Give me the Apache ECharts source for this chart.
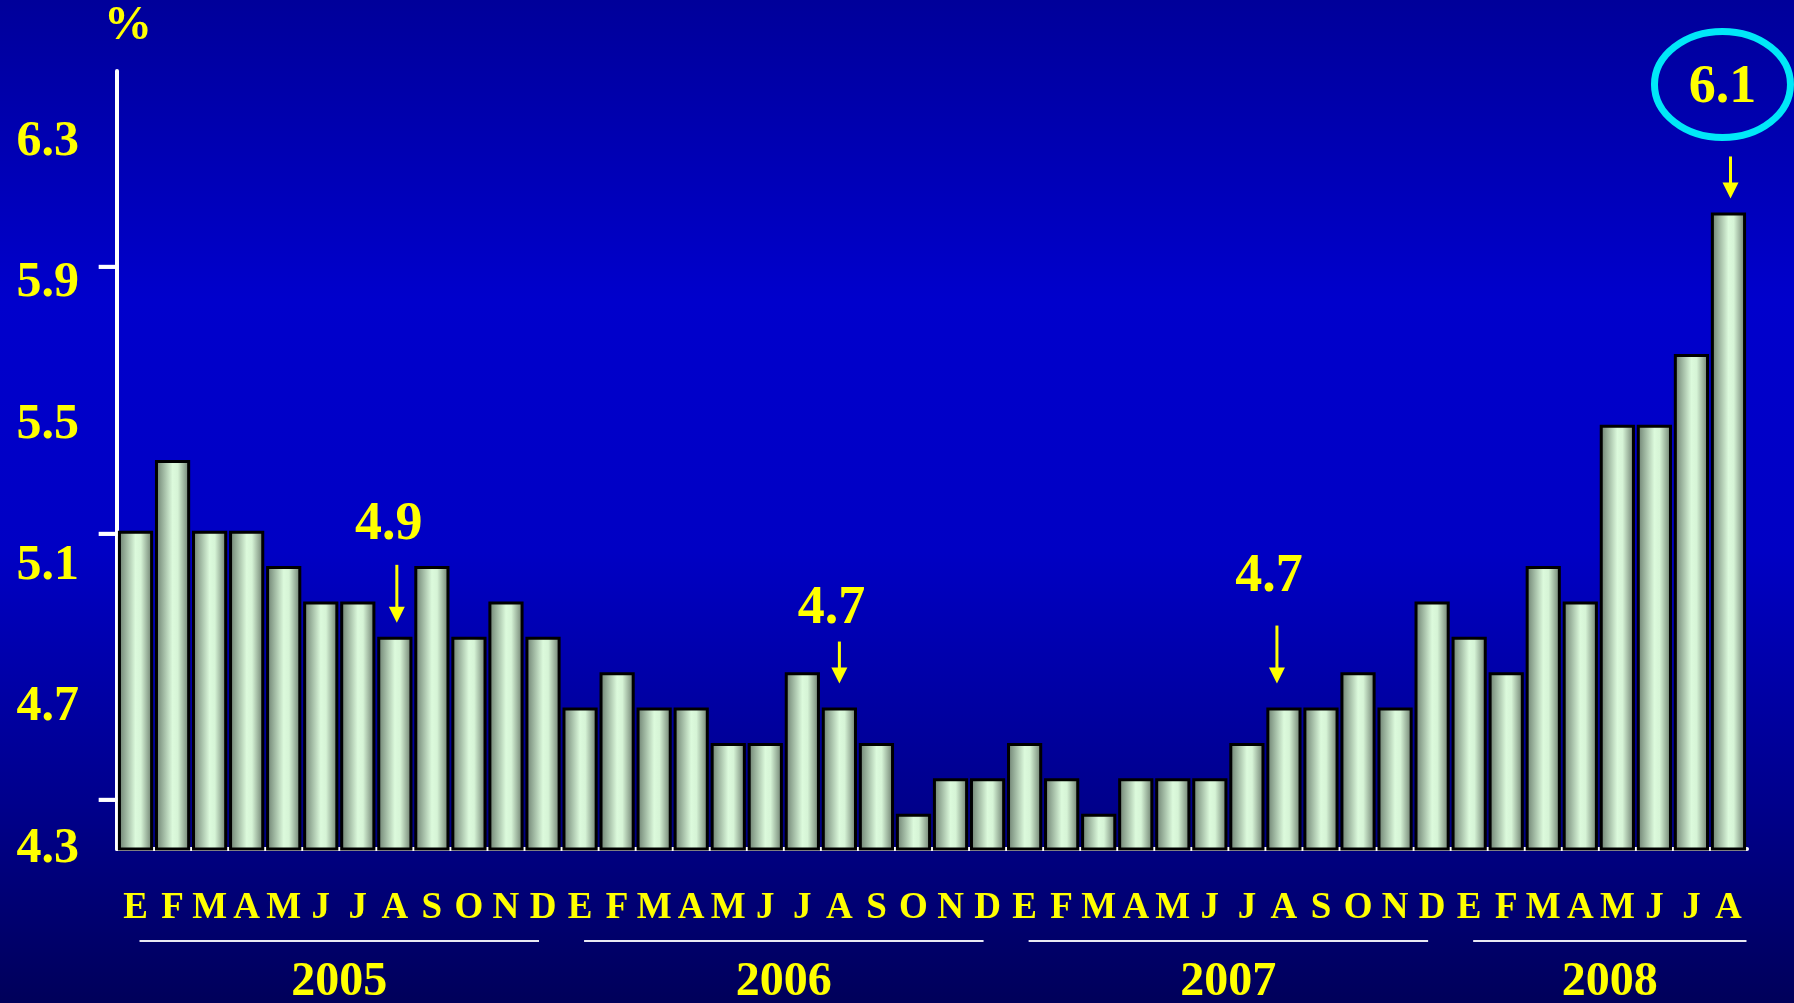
<!DOCTYPE html>
<html>
<head>
<meta charset="utf-8">
<script src="https://cdn.jsdelivr.net/npm/echarts@6/dist/echarts.min.js"></script>
<style>
  html, body { margin: 0; padding: 0; }
  #main { width: 1794px; height: 1003px; }
</style>
</head>
<body>
<div id="main"></div>
<script>
// months (Spanish initials) and monthly rate, %
const months = [
  "E","F","M","A","M","J","J","A","S","O","N","D",
  "E","F","M","A","M","J","J","A","S","O","N","D",
  "E","F","M","A","M","J","J","A","S","O","N","D",
  "E","F","M","A","M","J","J","A"
];
const rates = [
  5.2, 5.4, 5.2, 5.2, 5.1, 5.0, 5.0, 4.9, 5.1, 4.9, 5.0, 4.9,
  4.7, 4.8, 4.7, 4.7, 4.6, 4.6, 4.8, 4.7, 4.6, 4.4, 4.5, 4.5,
  4.6, 4.5, 4.4, 4.5, 4.5, 4.5, 4.6, 4.7, 4.7, 4.8, 4.7, 5.0,
  4.9, 4.8, 5.1, 5.0, 5.5, 5.5, 5.7, 6.1
];
const yTicks = [4.3, 4.7, 5.1, 5.5, 5.9, 6.3];
const years = ["2005", "2006", "2007", "2008"];
const yearMonths = [12, 12, 12, 8];
// annotated bars: index and label
const noteIndex = [7, 19, 31, 43];
const noteText = ["4.9", "4.7", "4.7", "6.1"];

const YELLOW = "#ffff00";
const FONT = '"Liberation Serif", "Times New Roman", serif';

const chart = echarts.init(document.getElementById("main"));

chart.setOption({
  animation: false,
  backgroundColor: new echarts.graphic.LinearGradient(0, 0, 0, 1, [
    { offset: 0, color: "#00009a" },
    { offset: 0.3, color: "#0000cc" },
    { offset: 0.55, color: "#0000c4" },
    { offset: 0.8, color: "#00008c" },
    { offset: 1, color: "#00005a" }
  ]),
  grid: { left: 117, right: 47, top: 71, bottom: 154 },
  xAxis: {
    type: "category",
    data: months,
    axisLine: { lineStyle: { color: "#ffffff", width: 4 } },
    axisTick: { inside: true, length: 12, lineStyle: { color: "#ffffff", width: 2 } },
    axisLabel: {
      color: YELLOW, fontFamily: FONT, fontWeight: "bold", fontSize: 37,
      margin: 41, interval: 0
    }
  },
  yAxis: {
    type: "value",
    min: 4.3,
    max: 6.5,
    splitLine: { show: false },
    axisLine: { show: true, lineStyle: { color: "#ffffff", width: 4 } },
    axisTick: { show: false },
    axisLabel: { show: false }
  },
  series: [{
    type: "bar",
    data: rates,
    barCategoryGap: "5%",
    itemStyle: {
      color: new echarts.graphic.LinearGradient(0, 0, 1, 0, [
        { offset: 0, color: "#66796a" },
        { offset: 0.5, color: "#dcfadc" },
        { offset: 0.65, color: "#d6f4d6" },
        { offset: 1, color: "#647466" }
      ]),
      borderColor: "#000000",
      borderWidth: 3
    }
  }]
});

// extra decorations placed through the chart's own scales
const px = (i, v) => chart.convertToPixel({ seriesIndex: 0 }, [i, v]);
const graphics = [];

// y ticks (a flattened block glyph) and their labels, outside the axis line
yTicks.forEach(v => {
  const p = px(0, v);
  graphics.push({
    type: "text", x: 99, y: p[1], z: 20,
    scaleX: 1, scaleY: 0.115, originX: 99, originY: p[1],
    style: {
      text: "\u2588", fill: "#ffffff", font: '30px "DejaVu Sans Mono", monospace',
      align: "left", verticalAlign: "middle"
    }
  });
  graphics.push({
    type: "text", x: 79, y: p[1],
    style: { text: v.toFixed(1), fill: YELLOW, font: "bold 50px " + FONT, align: "right", verticalAlign: "middle" }
  });
});

// % unit above the y axis
const axisTop = px(0, 6.5);
graphics.push({
  type: "text", x: 128, y: axisTop[1] - 44,
  style: {
    text: "%", fill: YELLOW, font: "bold 48px " + FONT, align: "center", verticalAlign: "middle",
    textShadowColor: "rgba(0,0,0,0.8)", textShadowOffsetX: 2, textShadowOffsetY: 2
  }
});

// year brackets under the month labels
let start = 0;
years.forEach((y, k) => {
  const end = start + yearMonths[k] - 1;
  const a = px(start, 4.3);
  const b = px(end, 4.3);
  const x1 = a[0] + 4;
  const x2 = k === years.length - 1 ? b[0] + 18 : b[0] - 4;
  const lineY = a[1] + 92;
  graphics.push({
    type: "line",
    shape: { x1: x1, y1: lineY, x2: x2, y2: lineY },
    style: { stroke: "#e8e8f4", lineWidth: 2 }
  });
  graphics.push({
    type: "text", x: (x1 + x2) / 2, y: lineY + 42,
    style: {
      text: y, fill: YELLOW, font: "bold 48px " + FONT, align: "center", verticalAlign: "middle",
      textShadowColor: "rgba(0,0,0,0.8)", textShadowOffsetX: 2, textShadowOffsetY: 2
    }
  });
  start = end + 1;
});

// annotation arrows and labels
const arrowLen = [58, 42, 58, 42];
const tipGap = [14, 24, 24, 14];
const textGap = [40, 32, 48, 68];
const noteDx = [2, 0, -7, 2];
noteIndex.forEach((idx, k) => {
  const p = px(idx, rates[idx]);
  const tipY = p[1] - tipGap[k];
  const x = p[0] + noteDx[k];
  graphics.push({
    type: "line",
    shape: { x1: x, y1: tipY - arrowLen[k], x2: x, y2: tipY - 10 },
    style: { stroke: YELLOW, lineWidth: 3 }
  });
  graphics.push({
    type: "polygon",
    shape: { points: [[x - 8, tipY - 16], [x + 8, tipY - 16], [x, tipY]] },
    style: { fill: YELLOW }
  });
  const ty = tipY - arrowLen[k] - textGap[k];
  graphics.push({
    type: "text", x: x - 8, y: ty,
    style: { text: noteText[k], fill: YELLOW, font: "bold 54px " + FONT, align: "center", verticalAlign: "middle" }
  });
  if (k === noteIndex.length - 1) {
    graphics.push({
      type: "ellipse",
      shape: { cx: x - 8, cy: ty - 4, rx: 68, ry: 53 },
      style: { fill: "none", stroke: "#00e8f8", lineWidth: 7 }
    });
  }
});

chart.setOption({ graphic: graphics });
</script>
</body>
</html>
